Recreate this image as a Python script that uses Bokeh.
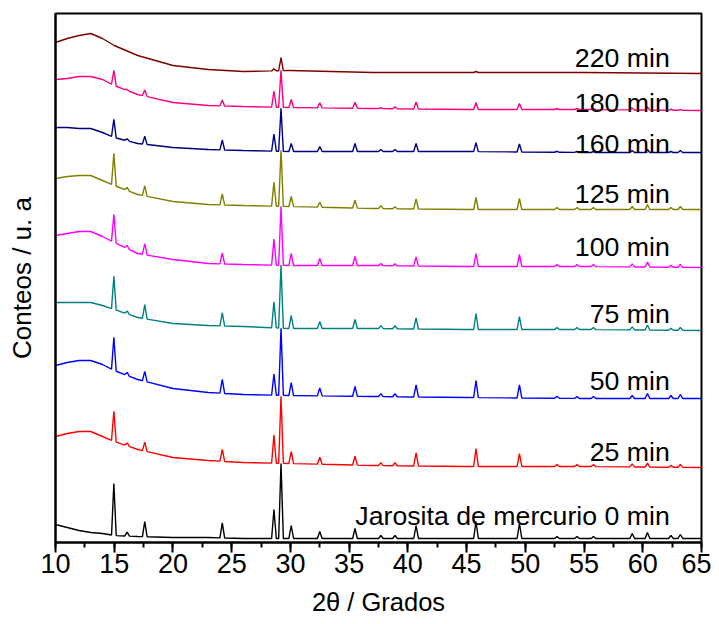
import numpy as np
from bokeh.plotting import figure
from bokeh.models import SingleIntervalTicker, FixedTicker, Range1d, ColumnDataSource
from bokeh.core.properties import value
from bokeh.embed import file_html
from bokeh.resources import INLINE

# ---------------- data ----------------
baseline_2theta = [10, 11, 12, 13, 14, 15, 17, 20, 23, 26, 30, 37, 45, 55, 65]
peak_2theta = [14.97, 16.1, 17.6, 24.2, 28.6, 29.2, 30.07, 32.5, 35.5, 37.7, 38.9,
               40.7, 45.8, 49.5, 52.7, 54.4, 55.8, 59.1, 60.4, 62.4, 63.2]

series_names = ["Jarosita de mercurio 0 min", "25 min", "50 min", "75 min", "100 min",
                "125 min", "160 min", "180 min", "220 min"]

base_0 = [18, 15, 12, 10, 9, 7, 6, 5, 5, 4, 4, 4, 4, 4, 4]
base_25 = [106, 109, 111, 111, 106, 101, 93, 85, 82, 80, 79, 77, 76, 76, 75]
base_50 = [177, 180, 182, 182, 178, 172, 163, 154, 150, 148, 147, 146, 145, 144, 144]
base_75 = [240, 240, 240, 240, 237, 233, 225, 219, 217, 216, 214, 214, 213, 213, 212]
base_100 = [307, 309, 311, 311, 306, 300, 289, 283, 279, 278, 277, 277, 276, 276, 275]
base_125 = [364, 366, 367, 367, 362, 357, 348, 341, 338, 337, 336, 334, 333, 333, 333]
base_160 = [415, 415, 414, 414, 410, 405, 399, 395, 393, 392, 391, 391, 391, 390, 390]
base_180 = [463, 464, 466, 466, 463, 457, 448, 440, 437, 436, 435, 434, 433, 433, 432]
base_220 = [500, 504, 507, 509, 504, 497, 487, 477, 473, 471, 472, 470, 470, 470, 469]

peaks_0 = [52, 4, 15, 15, 29, 75, 13, 7, 10, 3, 3, 13, 17, 15, 2, 2, 2, 5, 6, 3, 4]
peaks_25 = [30, 3, 9, 12, 28, 67, 12, 7, 9, 3, 3, 13, 18, 13, 2, 2, 2, 3, 4, 2, 3]
peaks_50 = [33, 3, 10, 14, 21, 67, 13, 8, 10, 3, 3, 12, 17, 13, 2, 2, 2, 3, 5, 3, 4]
peaks_75 = [33, 3, 14, 13, 26, 63, 13, 7, 9, 3, 3, 11, 16, 13, 2, 2, 2, 3, 5, 2, 3]
peaks_100 = [28, 3, 11, 11, 26, 59, 12, 7, 9, 2, 2, 9, 13, 12, 2, 2, 2, 3, 5, 2, 3]
peaks_125 = [32, 3, 10, 11, 24, 56, 10, 5, 8, 3, 2, 10, 12, 11, 2, 2, 2, 3, 5, 2, 3]
peaks_160 = [18, 2, 8, 10, 17, 43, 8, 5, 8, 2, 2, 8, 9, 8, 1, 1, 1, 2, 3, 1, 2]
peaks_180 = [15, 1, 6, 6, 16, 37, 8, 5, 6, 1, 2, 7, 7, 6, 1, 1, 1, 2, 3, 1, 1]
peaks_220 = [0, 0, 0, 0, 2, 13, 0, 0, 0, 0, 0, 0, 1, 0, 0, 0, 0, 0, 0, 0, 0]

x_ticks = [10, 15, 20, 25, 30, 35, 40, 45, 50, 55, 60, 65]

# ---------------- styling / positions ----------------
colors = ["#000000", "#FF0000", "#0000FF", "#008080", "#FF00FF",
          "#808000", "#000080", "#FF0080", "#800000"]
label_x = 62.3
label_y = [27, 90.3, 162, 228.7, 295.3, 348.7, 398.7, 439.3, 484.7]

bases = [base_0, base_25, base_50, base_75, base_100, base_125, base_160, base_180, base_220]
peaks = [peaks_0, peaks_25, peaks_50, peaks_75, peaks_100, peaks_125, peaks_160, peaks_180, peaks_220]

HW = 0.2


def pattern(base, heights):
    bx = np.array(baseline_2theta, float)
    by = np.array(base, float)
    keep = np.ones(len(bx), bool)
    xs, ys = [], []
    for p, h in zip(peak_2theta, heights):
        if h <= 0:
            continue
        keep &= ~((bx > p - HW) & (bx < p + HW))
        for dx, add in ((-HW, 0.0), (0.0, h), (HW, 0.0)):
            xs.append(p + dx)
            ys.append(float(np.interp(p + dx, bx, by)) + add)
    xs += list(bx[keep])
    ys += list(by[keep])
    order = np.argsort(xs)
    return np.array(xs)[order], np.array(ys)[order]


FONT = "Liberation Sans"

p = figure(width=711, height=624, output_backend="svg", toolbar_location=None,
           x_range=Range1d(10, 65), y_range=Range1d(0, 529),
           min_border_left=55, min_border_right=10, min_border_top=13, min_border_bottom=82)
p.grid.visible = False
p.outline_line_color = "black"
p.outline_line_width = 2
p.background_fill_color = "white"
p.border_fill_color = "white"

for base, hts, col in zip(bases, peaks, colors):
    xs, ys = pattern(base, hts)
    p.line(xs, ys, line_color=col, line_width=1.4)

src = ColumnDataSource(dict(x=[label_x] * len(series_names), y=label_y, t=series_names))
p.text(x="x", y="y", text="t", source=src, text_align="right", text_baseline="alphabetic",
       text_font=value(FONT), text_font_size="26.7px", text_color="black")

xa = p.xaxis[0]
xa.ticker = SingleIntervalTicker(interval=5, num_minor_ticks=2)
xa.major_tick_out = 10
xa.major_tick_in = 0
xa.minor_tick_out = 5
xa.minor_tick_in = 0
xa.axis_line_width = 2
xa.major_tick_line_width = 2
xa.minor_tick_line_width = 2
xa.major_label_text_font = FONT
xa.major_label_text_font_size = "27px"
xa.major_label_text_color = "black"
xa.major_label_standoff = 1
xa.axis_label = "2θ / Grados"
xa.axis_label_text_font = FONT
xa.axis_label_text_font_size = "25.5px"
xa.axis_label_text_font_style = "normal"
xa.axis_label_text_color = "black"
xa.axis_label_standoff = 12

ya = p.yaxis[0]
ya.ticker = FixedTicker(ticks=[])
ya.major_tick_out = 0
ya.minor_tick_out = 0
ya.axis_line_width = 2
ya.axis_label = "Conteos / u. a"
ya.axis_label_text_font = FONT
ya.axis_label_text_font_size = "26px"
ya.axis_label_text_font_style = "normal"
ya.axis_label_text_color = "black"
ya.axis_label_standoff = 19

open("out.html", "w").write(file_html(p, INLINE))
